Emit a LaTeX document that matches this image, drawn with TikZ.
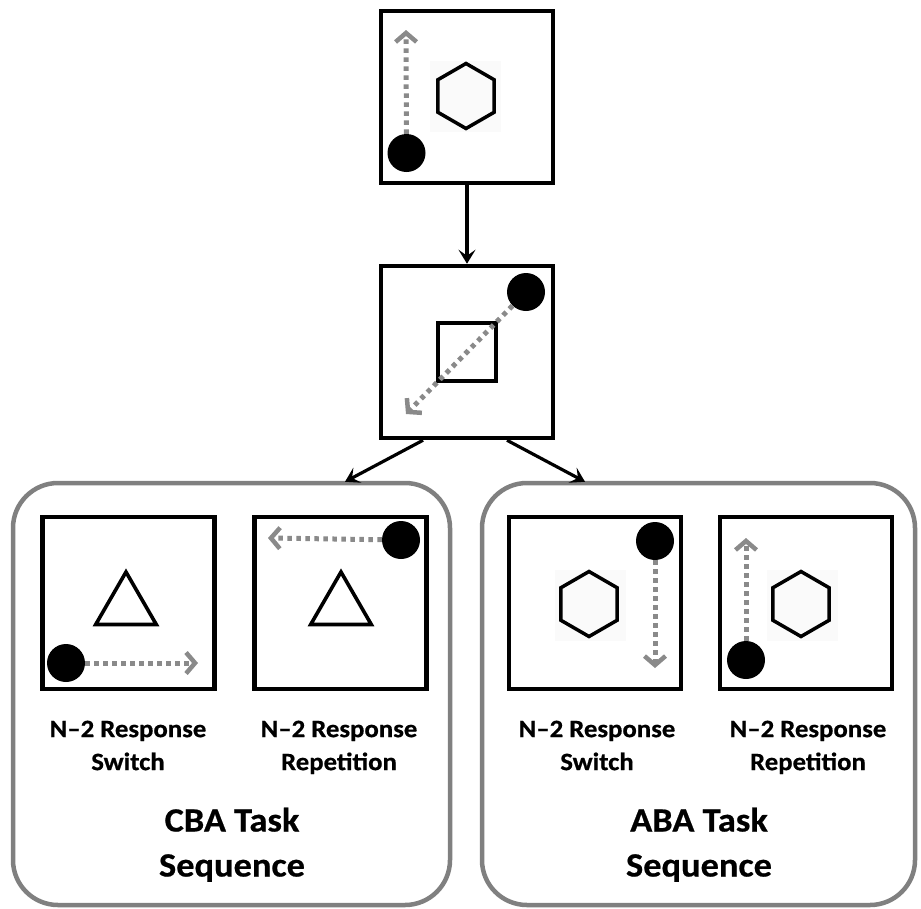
\documentclass[tikz,border=0pt]{standalone}
\usepackage{fontspec}
\setmainfont{Carlito}
\newfontfamily\labfont[FakeStretch=1.07,BoldFeatures={FakeStretch=1.07,FakeBold=0.6}]{Carlito}
\usetikzlibrary{arrows.meta,shapes.geometric}
\definecolor{pgray}{RGB}{128,128,128}
\definecolor{agray}{RGB}{138,138,138}
\definecolor{faint}{RGB}{250,250,250}
\begin{document}
\begin{tikzpicture}[x=1pt,y=-1pt,
  stim/.style={draw=black, line width=4.5pt, minimum width=172pt, minimum height=172pt, inner sep=0pt, fill=white},
  panel/.style={draw=pgray, line width=4.5pt, rounded corners=45pt, minimum height=422pt, inner sep=0pt},
  blob/.style={circle, fill=black, minimum size=38pt, inner sep=0pt},
  hexa/.style={regular polygon, regular polygon sides=6, shape border rotate=90, minimum size=65pt, draw=black, line width=3.5pt, inner sep=0pt},
  tri/.style={regular polygon, regular polygon sides=3, minimum size=70pt, draw=black, line width=3.6pt, inner sep=0pt},
  bg/.style={fill=faint, minimum size=71pt, inner sep=0pt},
  move/.style={draw=agray, line width=5pt, dash pattern=on 4.5pt off 4.5pt, -{Straight Barb[length=9pt,width=21pt,line width=4.5pt]}},
  flow/.style={draw=black, line width=3.2pt, -{Stealth[length=14pt,width=17pt,inset=6pt]}},
  lab/.style={font=\labfont\fontsize{25}{33}\selectfont\bfseries, align=center},
  ttl/.style={font=\labfont\fontsize{34}{45}\selectfont\bfseries, align=center}
]
\useasboundingbox (0,0) rectangle (921,908);
\fill[white] (0,0) rectangle (921,908);

% panels
\node[panel, minimum width=437pt] (L) at (231.5,694) {};
\node[panel, minimum width=433pt] (R) at (698.5,694) {};

% top stimulus
\node[stim] (t) at (467,97) {};
\node[bg] (tbg) at (465.5,96) {};
\node[hexa] (th) at (466,96) {};
\node[blob] (tc) at (406.5,153) {};
\coordinate (te) at (406,30);
\draw[move] (tc) -- (te);

% second stimulus
\node[stim] (s) at (467,352) {};
\node[draw=black, line width=3.2pt, minimum size=58pt, inner sep=0pt] (sq) at (467,352) {};
\node[blob] (sc) at (526,292) {};
\coordinate (se) at (406,414);
\draw[move] (sc) -- (se);

% flow arrows
\draw[flow] (t.south) -- (s.north);
\draw[flow] ([xshift=-44pt]s.south) -- ([xshift=113.5pt,yshift=-1pt]L.north);
\draw[flow] ([xshift=40pt]s.south) -- ([xshift=-113.5pt,yshift=-1pt]R.north);

% CBA panel
\node[stim] (b1) at (128.5,603) {};
\node[tri] (b1t) at (126,607) {};
\node[blob] (b1c) at (66,663) {};
\coordinate (b1e) at (198,663);
\draw[move] (b1c) -- (b1e);

\node[stim] (b2) at (340.5,603) {};
\node[tri] (b2t) at (341,607) {};
\node[blob] (b2c) at (401,540) {};
\coordinate (b2e) at (268,538);
\draw[move] (b2c) -- (b2e);

% ABA panel
\node[stim] (b3) at (595,603) {};
\node[bg] (b3bg) at (590,605) {};
\node[hexa] (b3h) at (589,604) {};
\node[blob] (b3c) at (655,541) {};
\coordinate (b3e) at (655,668);
\draw[move] (b3c) -- (b3e);

\node[stim] (b4) at (806,603) {};
\node[bg] (b4bg) at (802,605) {};
\node[hexa] (b4h) at (801,604) {};
\node[blob] (b4c) at (746,660) {};
\coordinate (b4e) at (746,538);
\draw[move] (b4c) -- (b4e);

% labels
\node[lab] (l1) at (128,747) {N–2 Response\strut\\Switch\strut};
\node[lab] (l2) at (339,747) {N–2 Response\strut\\Repetition\strut};
\node[lab] (l3) at (597,747) {N–2 Response\strut\\Switch\strut};
\node[lab] (l4) at (808,747) {N–2 Response\strut\\Repetition\strut};
\node[ttl] (c1) at (232,845) {CBA Task\strut\\Sequence\strut};
\node[ttl] (c2) at (699,845) {ABA Task\strut\\Sequence\strut};
\end{tikzpicture}
\end{document}
